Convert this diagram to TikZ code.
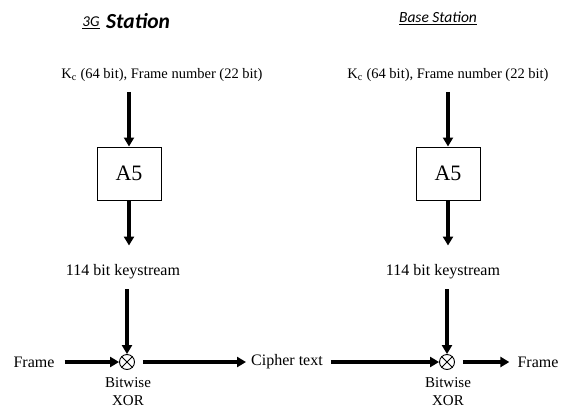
\documentclass[tikz,border=0pt]{standalone}
\usepackage{fontspec}
\setmainfont{Liberation Serif}
\newfontfamily\titlefont{Carlito}
\usetikzlibrary{arrows.meta}
\begin{document}
\begin{tikzpicture}[x=1pt,y=-1pt,
  lbl/.style={font=\fontsize{16}{18}\selectfont, inner sep=0pt},
  sub/.style={font=\fontsize{15}{18}\selectfont, inner sep=0pt},
  arr/.style={line width=3.2pt, -{Triangle[length=9pt,width=10pt]}},
  boxA/.style={draw, line width=1pt, minimum width=64pt, minimum height=53pt, inner sep=0pt, font=\fontsize{22}{24}\selectfont},
  xorc/.style={draw, circle, line width=0.9pt, minimum size=15pt, inner sep=0pt},
  xcross/.style={line width=0.9pt},
  ttl/.style={inner sep=0pt}]
\useasboundingbox (0,0) rectangle (568,413);
% titles
\node[ttl, font=\titlefont\itshape\fontsize{15}{17}\selectfont] (t3g) at (91,23) {\underline{3G}};
\node[ttl, font=\titlefont\bfseries\itshape\fontsize{21.5}{24}\selectfont, anchor=west] (tst) at (106,21) {Station};
\node[ttl, font=\titlefont\itshape\fontsize{15.5}{17}\selectfont] (tbs) at (438,18) {\underline{Base Station}};
% left column
\node[lbl, font=\fontsize{14.5}{17}\selectfont] (kl) at (162,75) {K\textsubscript{c} (64 bit), Frame number (22 bit)};
\node[boxA] (al) at (129,173.5) {A5};
\node[lbl] (ksl) at (123,272) {114 bit keystream};
\node[xorc] (xl) at (127,362) {};
\draw[xcross] (xl.45) -- (xl.225) (xl.135) -- (xl.-45);
\node[sub, align=center] (bl) at (128,392) {Bitwise\\XOR};
\node[lbl] (fl) at (34,362) {Frame};
\node[lbl] (ct) at (287,362) {Cipher text};
% right column
\node[lbl, font=\fontsize{14.5}{17}\selectfont] (kr) at (448,75) {K\textsubscript{c} (64 bit), Frame number (22 bit)};
\node[boxA] (ar) at (448,173.5) {A5};
\node[lbl] (ksr) at (443,272) {114 bit keystream};
\node[xorc] (xr) at (447,362) {};
\draw[xcross] (xr.45) -- (xr.225) (xr.135) -- (xr.-45);
\node[sub, align=center] (br) at (448,392) {Bitwise\\XOR};
\node[lbl] (fr) at (538,362) {Frame};
% arrows left
\draw[arr, shorten <=10pt] (kl.south -| al.north) -- (al.north);
\draw[arr, shorten >=19pt] (al.south) -- (ksl.north -| al.south);
\draw[arr, shorten <=10pt] (ksl.south -| xl.north) -- (xl.north);
\draw[arr, shorten <=10pt] (fl.east) -- (xl.west);
\draw[arr, shorten <=8pt, shorten >=5pt] (xl.east) -- (ct.west);
% arrows right
\draw[arr, shorten <=10pt] (kr.south -| ar.north) -- (ar.north);
\draw[arr, shorten >=19pt] (ar.south) -- (ksr.north -| ar.south);
\draw[arr, shorten <=10pt] (ksr.south -| xr.north) -- (xr.north);
\draw[arr, shorten <=8pt] (ct.east) -- (xr.west);
\draw[arr, shorten <=8pt, shorten >=8pt] (xr.east) -- (fr.west);
\end{tikzpicture}
\end{document}
